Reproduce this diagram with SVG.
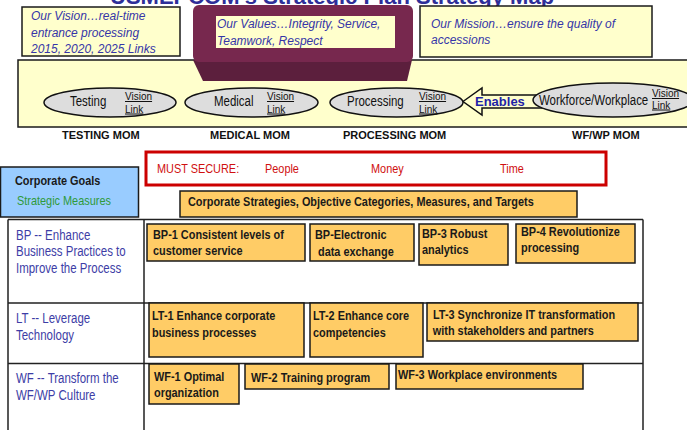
<svg xmlns="http://www.w3.org/2000/svg" width="687" height="430" viewBox="0 0 687 430">
  <style>
    .title{font-family:"Liberation Sans",Arial,sans-serif;font-weight:bold;font-size:22px;fill:#2e2e99}
    .stmt{font-family:"Liberation Sans",Arial,sans-serif;font-style:italic;font-size:12px;fill:#3535a8}
    .note{fill:#ffffcc;stroke:#1a1a1a;stroke-width:1.5}
    .oval{fill:#dddddd;stroke:#111;stroke-width:1.5}
    /* condensed lettering: Liberation Sans squeezed to a narrow face */
    .nw{font-family:"Liberation Sans",Arial,sans-serif;transform-box:fill-box;transform-origin:0 0;transform:scale(0.82,1)}
    .ovt{font-size:14px;fill:#111}
    .link{font-family:"Liberation Sans",Arial,sans-serif;font-size:10px;fill:#111;text-decoration:underline}
    .mom{font-family:"Liberation Sans",Arial,sans-serif;font-weight:bold;font-size:11px;fill:#111}
    .goal{fill:#99ccff;stroke:#1a1a1a;stroke-width:1.5}
    .orange{fill:#ffcc66;stroke:#1a1a1a;stroke-width:1.5}
    .bt{font-weight:bold;font-size:13.3px;fill:#1a1a1a}
    .red{font-size:13.3px;fill:#d01010}
    .green{font-size:13.3px;fill:#2f9a3a}
    .row{font-size:14px;fill:#3d3da6}
    .grid{stroke:#222;stroke-width:1.5;fill:none}
  </style>

  <!-- heading, mostly above the top edge -->
  <text class="title" x="110" y="4">USMEPCOM's Strategic Plan Strategy Map</text>

  <!-- MOM band -->
  <g id="mom-band">
    <rect class="note" x="18" y="60" width="690" height="67"/>
  </g>

  <g id="vision">
    <rect class="note" x="22" y="7" width="158" height="49"/>
    <text class="stmt" x="31" y="20">Our Vision…real-time</text>
    <text class="stmt" x="31" y="37">entrance processing</text>
    <text class="stmt" x="31" y="53">2015, 2020, 2025 Links</text>
  </g>

  <g id="values">
    <path d="M193 60 L412 60 L407 81 L203 81 Z" fill="#5c1f3d"/>
    <rect x="193" y="5" width="220" height="57" rx="6" fill="#77284e"/>
    <rect x="216" y="16" width="179" height="32" fill="#ffffcc"/>
    <text class="stmt" x="217" y="28">Our Values…Integrity, Service,</text>
    <text class="stmt" x="217" y="45">Teamwork, Respect</text>
  </g>

  <g id="mission">
    <rect class="note" x="420" y="6" width="232" height="51"/>
    <text class="stmt" x="431" y="28">Our Mission…ensure the quality of</text>
    <text class="stmt" x="431" y="44">accessions</text>
  </g>

  <g id="connectors">
    <path d="M463 101.5 L482 88 L482 95 L545 95 L545 108 L482 108 L482 115 Z" fill="#ffffcc" stroke="#111" stroke-width="1.5"/>
    <text x="475" y="106" font-family="Liberation Sans, Arial, sans-serif" font-weight="bold" font-size="13" fill="#1f1fa8">Enables</text>
  </g>

  <g id="testing">
    <ellipse class="oval" cx="110" cy="102.5" rx="66" ry="14.5"/>
    <text class="nw ovt" x="70" y="106">Testing</text>
    <text class="link" x="125" y="100">Vision</text>
    <text class="link" x="125" y="112.5">Link</text>
    <text class="mom" x="62" y="139">TESTING MOM</text>
  </g>

  <g id="medical">
    <ellipse class="oval" cx="251.5" cy="102.5" rx="66.5" ry="14.5"/>
    <text class="nw ovt" x="214" y="106">Medical</text>
    <text class="link" x="267" y="100">Vision</text>
    <text class="link" x="267" y="112.5">Link</text>
    <text class="mom" x="210" y="139">MEDICAL MOM</text>
  </g>

  <g id="processing">
    <ellipse class="oval" cx="396.5" cy="102.5" rx="66.5" ry="14.5"/>
    <text class="nw ovt" x="347" y="106">Processing</text>
    <text class="link" x="419" y="100">Vision</text>
    <text class="link" x="419" y="112.5">Link</text>
    <text class="mom" x="343" y="139">PROCESSING MOM</text>
  </g>

  <g id="workforce">
    <ellipse class="oval" cx="613" cy="100" rx="80" ry="17"/>
    <text class="nw ovt" x="539" y="105">Workforce/Workplace</text>
    <text class="link" x="652" y="97">Vision</text>
    <text class="link" x="652" y="108.5">Link</text>
    <text class="mom" x="572" y="139">WF/WP MOM</text>
  </g>

  <g id="must-secure">
    <rect x="146" y="152" width="460" height="33" fill="#fff" stroke="#cc0000" stroke-width="3"/>
    <text class="nw red" x="157" y="173.5">MUST SECURE:</text>
    <text class="nw red" x="265" y="173.5">People</text>
    <text class="nw red" x="371" y="173.5">Money</text>
    <text class="nw red" x="500" y="173.5">Time</text>
  </g>

  <g id="corporate-goals">
    <rect class="goal" x="0.5" y="167" width="138" height="50"/>
    <text class="nw bt" x="15" y="185.5">Corporate Goals</text>
    <text class="nw green" x="17" y="205">Strategic Measures</text>
  </g>

  <g id="corporate-strategies">
    <rect class="orange" x="180" y="191" width="397" height="26"/>
    <text class="nw bt" x="188" y="206">Corporate Strategies, Objective Categories, Measures, and Targets</text>
  </g>

  <!-- goal table -->
  <g id="table">
    <path class="grid" d="M8 219.5 H643 M8 303 H643 M8 363.5 H643 M8 219.5 V430 M144 219.5 V430 M643 219.5 V430"/>
  </g>

  <g id="goal-bp">
    <text class="nw row" x="16" y="240">BP -- Enhance</text>
    <text class="nw row" x="16" y="256.5">Business Practices to</text>
    <text class="nw row" x="16" y="273">Improve the Process</text>
  </g>
  <g id="goal-lt">
    <text class="nw row" x="16" y="323">LT -- Leverage</text>
    <text class="nw row" x="16" y="340">Technology</text>
  </g>
  <g id="goal-wf">
    <text class="nw row" x="16" y="383">WF -- Transform the</text>
    <text class="nw row" x="16" y="400">WF/WP Culture</text>
  </g>

  <g id="bp-1">
    <rect class="orange" x="147" y="224" width="158" height="37"/>
    <text class="nw bt" x="153" y="239">BP-1 Consistent levels of</text>
    <text class="nw bt" x="153" y="255">customer service</text>
  </g>
  <g id="bp-2">
    <rect class="orange" x="310" y="224" width="104" height="37"/>
    <text class="nw bt" x="315" y="239">BP-Electronic</text>
    <text class="nw bt" x="318" y="256">data exchange</text>
  </g>
  <g id="bp-3">
    <rect class="orange" x="419" y="224" width="89" height="41"/>
    <text class="nw bt" x="422" y="238">BP-3 Robust</text>
    <text class="nw bt" x="422" y="254">analytics</text>
  </g>
  <g id="bp-4">
    <rect class="orange" x="516" y="224" width="119" height="39"/>
    <text class="nw bt" x="521" y="236">BP-4 Revolutionize</text>
    <text class="nw bt" x="521" y="252">processing</text>
  </g>

  <g id="lt-1">
    <rect class="orange" x="149" y="303" width="155" height="54"/>
    <text class="nw bt" x="152" y="320">LT-1 Enhance corporate</text>
    <text class="nw bt" x="152" y="337">business processes</text>
  </g>
  <g id="lt-2">
    <rect class="orange" x="310" y="303" width="113" height="54"/>
    <text class="nw bt" x="313" y="320">LT-2 Enhance core</text>
    <text class="nw bt" x="313" y="337">competencies</text>
  </g>
  <g id="lt-3">
    <rect class="orange" x="427" y="303" width="211" height="38"/>
    <text class="nw bt" x="433" y="319">LT-3 Synchronize IT transformation</text>
    <text class="nw bt" x="433" y="335">with stakeholders and partners</text>
  </g>

  <g id="wf-1">
    <rect class="orange" x="149" y="364" width="90" height="40"/>
    <text class="nw bt" x="154" y="381">WF-1 Optimal</text>
    <text class="nw bt" x="154" y="397">organization</text>
  </g>
  <g id="wf-2">
    <rect class="orange" x="245" y="364" width="144" height="25"/>
    <text class="nw bt" x="251" y="382">WF-2 Training program</text>
  </g>
  <g id="wf-3">
    <rect class="orange" x="396" y="364" width="187" height="25"/>
    <text class="nw bt" x="398" y="379">WF-3 Workplace environments</text>
  </g>
</svg>
